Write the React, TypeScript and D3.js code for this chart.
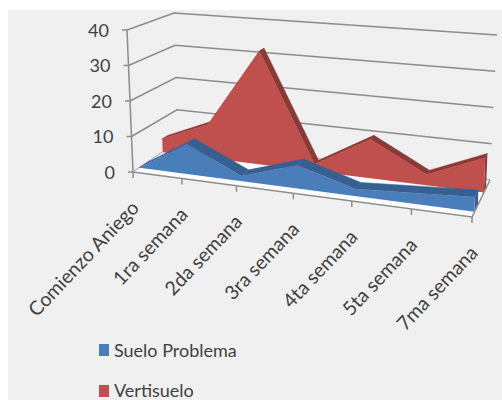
import React from "react";
import * as d3 from "d3";

const categories = ["Comienzo Aniego", "1ra semana", "2da semana", "3ra semana", "4ta semana", "5ta semana", "7ma semana"];
const sueloProblema = [0, 8.5, 1.5, 6.5, 2, 3, 4];
const vertisuelo = [4, 10, 33, 2, 11, 3, 9.5];
const valueTicks = [0, 10, 20, 30, 40];
const seriesNames = ["Suelo Problema", "Vertisuelo"];

type Pt = [number, number];

// Corners of the 3D plot box, as seen in perspective
const floorFL: Pt = [133, 172];
const floorFR: Pt = [472, 217];
const floorBL: Pt = [178, 142];
const floorBR: Pt = [490, 180];
const topFL: Pt = [127, 30];
const topBL: Pt = [174, 13];
const topBR: Pt = [497, 35];
const topFR: Pt = [474, 67];

const catPos = d3.scalePow().exponent(1.08).domain([0, categories.length - 1]).range([0, 1]);
const height = d3.scaleLinear().domain([0, 40]).range([0, 1]);

const mix = (a: Pt, b: Pt, t: number): Pt => [a[0] + (b[0] - a[0]) * t, a[1] + (b[1] - a[1]) * t];

// Trilinear mapping from (category, depth, value) into the page
function project(cat: number, depth: number, value: number): Pt {
  const u = catPos(cat);
  const w = height(value);
  const base = mix(mix(floorFL, floorFR, u), mix(floorBL, floorBR, u), depth);
  const top = mix(mix(topFL, topFR, u), mix(topBL, topBR, u), depth);
  return mix(base, top, w);
}

const polygon = (pts: Pt[]) => (d3.line()(pts) ?? "") + "Z";

function Ribbon({ values, front, back, fill, topFill }: { values: number[]; front: number; back: number; fill: string; topFill: string }) {
  const last = values.length - 1;
  const frontFace: Pt[] = [
    project(0, front, 0),
    ...values.map((v, i) => project(i, front, v)),
    project(last, front, 0),
  ];
  return (
    <g>
      {values.slice(1).map((v, i) => (
        <path
          key={i}
          d={polygon([
            project(i, front, values[i]),
            project(i + 1, front, v),
            project(i + 1, back, v),
            project(i, back, values[i]),
          ])}
          fill={topFill}
          stroke={topFill}
          strokeWidth={0.5}
        />
      ))}
      <path
        d={polygon([
          project(last, front, 0),
          project(last, front, values[last]),
          project(last, back, values[last]),
          project(last, back, 0),
        ])}
        fill={topFill}
      />
      <path d={polygon(frontFace)} fill={fill} />
    </g>
  );
}

export default function App() {
  const gridColor = "#8c8c8c";
  const labelFont = "Lato, 'Open Sans', sans-serif";
  return (
    <svg width={502} height={400} style={{ position: "absolute", left: 0, top: 0 }}>
      <rect width={502} height={400} fill="#ffffff" />
      <rect x={8} y={10} width={494} height={390} fill="#f0f0f0" />

      {/* Back and left walls */}
      {valueTicks.map((t) => (
        <path
          key={t}
          d={d3.line()([project(0, 0, t), project(0, 1, t), project(categories.length - 1, 1, t)]) ?? ""}
          fill="none"
          stroke={gridColor}
          strokeWidth={1.5}
        />
      ))}
      <path d={d3.line()([project(0, 0, 0), project(0, 0, 40)]) ?? ""} stroke={gridColor} strokeWidth={1.5} />
      {valueTicks.map((t) => {
        const p = project(0, 0, t);
        return (
          <g key={t}>
            <line x1={p[0] - 5} y1={p[1]} x2={p[0]} y2={p[1]} stroke={gridColor} strokeWidth={1.5} />
            <text x={p[0] - 18} y={p[1] + 6.5} textAnchor="end" fontFamily={labelFont} fontSize={18} fill="#404040">
              {t}
            </text>
          </g>
        );
      })}

      {/* Floor */}
      <path d={polygon([floorFL, floorFR, floorBR, floorBL])} fill="#ffffff" />

      <Ribbon values={vertisuelo} front={0.66} back={0.78} fill="#c0504d" topFill="#8c3836" />
      <Ribbon values={sueloProblema} front={0.14} back={0.33} fill="#4a7ebb" topFill="#376092" />

      {/* Front and right floor edges with category ticks */}
      <path d={d3.line()([floorFL, floorFR, floorBR]) ?? ""} fill="none" stroke={gridColor} strokeWidth={1.6} />
      {categories.map((c, i) => {
        const p = project(i, 0, 0);
        return (
          <g key={c}>
            <line x1={p[0]} y1={p[1]} x2={p[0]} y2={p[1] + 6} stroke={gridColor} strokeWidth={1.5} />
            <text
              transform={`translate(${p[0] + 7},${p[1] + 37}) rotate(-46.5)`}
              textAnchor="end"
              fontFamily={labelFont}
              fontSize={19.5}
              fill="#404040"
            >
              {c}
            </text>
          </g>
        );
      })}

      {/* Legend */}
      {seriesNames.map((name, i) => (
        <g key={name}>
          <rect x={99} y={344 + i * 41} width={10} height={12} fill={i === 0 ? "#4a7ebb" : "#c0504d"} />
          <text x={114} y={357 + i * 40} fontFamily={labelFont} fontSize={18} fill="#404040">
            {name}
          </text>
        </g>
      ))}
    </svg>
  );
}
